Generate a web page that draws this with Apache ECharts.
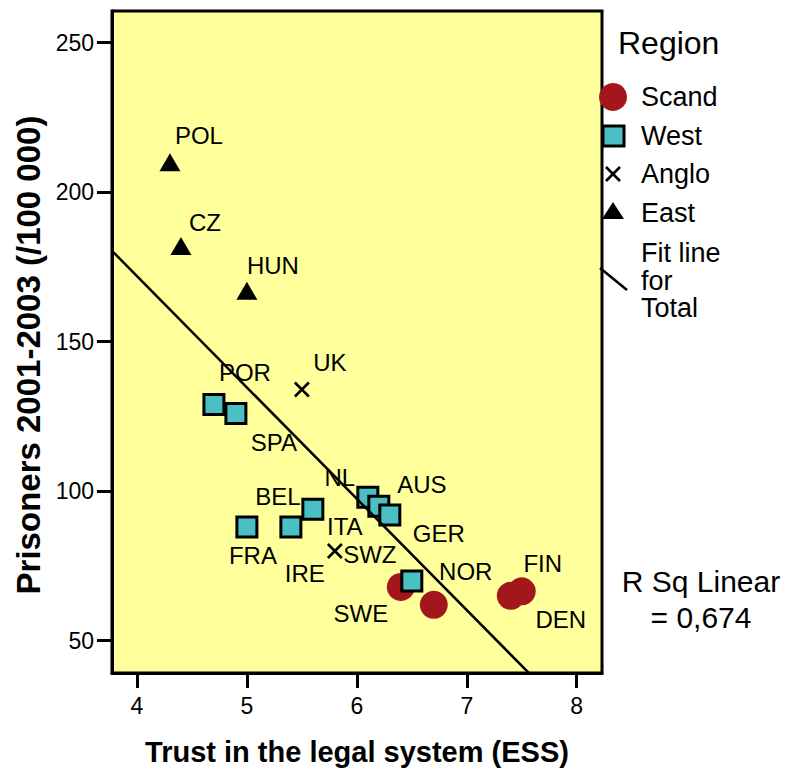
<!DOCTYPE html>
<html>
<head>
<meta charset="utf-8">
<script src="https://cdn.jsdelivr.net/npm/echarts@6/dist/echarts.min.js"></script>
<style>
html,body{margin:0;padding:0;background:#fff;}
#chart{width:793px;height:771px;}
</style>
</head>
<body>
<div id="chart"></div>
<script>
// ---- data ----
const countries = ['POL','CZ','HUN','UK','IRE','POR','SPA','BEL','ITA','FRA','NL','AUS','GER','SWZ','SWE','NOR','FIN','DEN'];
const regionOf  = ['East','East','East','Anglo','Anglo','West','West','West','West','West','West','West','West','West','Scand','Scand','Scand','Scand'];
const trust     = [4.3, 4.4, 5.0, 5.5, 5.8, 4.7, 4.9, 5.4, 5.6, 5.0, 6.1, 6.2, 6.3, 6.5, 6.4, 6.7, 7.5, 7.4];
const prisoners = [210, 182, 167, 134, 80, 129, 126, 88, 94, 88, 98, 95, 92, 70, 68, 62, 66.5, 65];
const regionNames = ['Scand','West','Anglo','East'];
const xTicks = [4, 5, 6, 7, 8];
const yTicks = [50, 100, 150, 200, 250];
const rSqText = ['R Sq Linear', '= 0,674'];
const legendTitle = 'Region';
const fitLegendLines = ['Fit line', 'for', 'Total'];
const xTitle = 'Trust in the legal system (ESS)';
const yTitle = 'Prisoners 2001-2003 (/100 000)';

// ---- styles ----
const FONT = "'Liberation Sans', Arial, Helvetica, sans-serif";
const labelOffsets = {
  POL:[29,-27], CZ:[24,-24], HUN:[26,-25], UK:[28,-27], IRE:[-30,22],
  POR:[31,-32], SPA:[38,29], BEL:[-13,-31], ITA:[32,17], FRA:[6,28],
  NL:[-28,-20], AUS:[43,-22], GER:[49,18], SWZ:[-42,-26],
  SWE:[-40,27], NOR:[32,-33], FIN:[21,-28], DEN:[50,24]
};
const X_MIN = 3.773, X_MAX = 8.23, Y_MIN = 39.2, Y_MAX = 260.6;
const TEAL = '#4AC0C5', RED = '#A3161B', BG = '#FFFF9C';

const symbolStyle = {
  Scand: {symbol:'circle', symbolSize:28, itemStyle:{color:RED, opacity:1}},
  West:  {symbol:'rect', symbolSize:20, itemStyle:{color:TEAL, borderColor:'#000', borderWidth:3, opacity:1}},
  Anglo: {symbol:'path://M0,0L10,10M10,0L0,10', symbolSize:14, itemStyle:{color:'rgba(0,0,0,0)', borderColor:'#000', borderWidth:2.6, opacity:1}},
  East:  {symbol:'triangle', symbolSize:[21,18], itemStyle:{color:'#000', opacity:1}}
};

// regression (fit line for total)
const n = trust.length;
const mx = trust.reduce((a,b)=>a+b,0)/n;
const my = prisoners.reduce((a,b)=>a+b,0)/n;
let sxy=0, sxx=0;
for (let i=0;i<n;i++){ sxy += (trust[i]-mx)*(prisoners[i]-my); sxx += (trust[i]-mx)**2; }
const slope = sxy/sxx, intercept = my - slope*mx;
const fitData = [[X_MIN, intercept+slope*X_MIN],[X_MAX, intercept+slope*X_MAX]];

const seriesNames = [];
const series = regionNames.map((r, si) => {
  const st = symbolStyle[r];
  const data = [];
  const names = [];
  for (let i=0;i<n;i++) if (regionOf[i]===r) {
    data.push({value:[trust[i], prisoners[i]], name:countries[i]});
    names.push(countries[i]);
  }
  seriesNames.push(names);
  return {
    type:'scatter', name:r, data,
    symbol:st.symbol, symbolSize:st.symbolSize, itemStyle:st.itemStyle,
    z: r==='West' ? 4 : 3,
    label:{show:true, position:'inside', align:'center', verticalAlign:'middle',
      formatter:p=>p.name, color:'#000', opacity:1, fontSize:24, fontFamily:FONT},
    labelLayout: function(params){
      const off = labelOffsets[seriesNames[params.seriesIndex][params.dataIndex]] || [0,0];
      return {dx: off[0], dy: off[1], hideOverlap:false};
    },
    emphasis:{disabled:true}, silent:true
  };
});
series.push({
  type:'line', name:'Fit line for Total', data:fitData, showSymbol:false, symbol:'none',
  lineStyle:{color:'#000', width:2.5, opacity:1}, z:5, clip:true, silent:true
});

// legend via graphics
const lx = 613, tx = 641;
const graphic = [
  {type:'text', left:618, top:27, style:{text:legendTitle, fontSize:32, fontFamily:FONT, fill:'#000'}},
  {type:'circle', shape:{cx:lx, cy:97, r:14}, style:{fill:RED}},
  {type:'rect', shape:{x:lx-10, y:126, width:21, height:20}, style:{fill:TEAL, stroke:'#000', lineWidth:3}},
  {type:'polyline', shape:{points:[[lx-7,167],[lx+7,181]]}, style:{stroke:'#000', lineWidth:2.6}},
  {type:'polyline', shape:{points:[[lx+7,167],[lx-7,181]]}, style:{stroke:'#000', lineWidth:2.6}},
  {type:'polygon', shape:{points:[[lx,202],[lx+11,219],[lx-11,219]]}, style:{fill:'#000'}},
  {type:'polyline', shape:{points:[[600,268],[627,290]]}, style:{stroke:'#000', lineWidth:2.5}}
];
const legendTexts = [['Scand',97],['West',136],['Anglo',174],['East',213]];
legendTexts.forEach(([t,y]) => graphic.push({type:'text', x:tx, y:y,
  style:{text:t, fontSize:27, fontFamily:FONT, fill:'#000', verticalAlign:'middle', textAlign:'left'}}));
fitLegendLines.forEach((t,i) => graphic.push({type:'text', x:tx, y:253+i*27.5,
  style:{text:t, fontSize:27, fontFamily:FONT, fill:'#000', verticalAlign:'middle', textAlign:'left'}}));
rSqText.forEach((t,i) => graphic.push({type:'text', x:701, y:581+i*36,
  style:{text:t, fontSize:30, fontFamily:FONT, fill:'#000', verticalAlign:'middle', textAlign:'center'}}));

const chart = echarts.init(document.getElementById('chart'), null, {renderer:'svg'});
chart.setOption({
  animation:false,
  backgroundColor:'#fff',
  grid:{left:112, right:191, top:11, bottom:96, show:true, backgroundColor:BG, borderColor:'#000', borderWidth:3, containLabel:false},
  xAxis:{
    type:'value', min:X_MIN, max:X_MAX,
    name:xTitle, nameLocation:'middle', nameGap:64,
    nameTextStyle:{fontSize:29, fontWeight:'bold', fontFamily:FONT, color:'#000'},
    axisLine:{show:true, onZero:false, lineStyle:{color:'#000', width:3}},
    axisTick:{show:true, customValues:xTicks, length:15, lineStyle:{color:'#000', width:3}},
    axisLabel:{customValues:xTicks, fontSize:23, fontFamily:FONT, color:'#000', margin:21},
    splitLine:{show:false}
  },
  yAxis:{
    type:'value', min:Y_MIN, max:Y_MAX,
    name:yTitle, nameLocation:'middle', nameGap:66, nameRotate:90,
    nameTextStyle:{fontSize:33, fontWeight:'bold', fontFamily:FONT, color:'#000', padding:[0,26,0,0]},
    axisLine:{show:true, onZero:false, lineStyle:{color:'#000', width:3}},
    axisTick:{show:true, customValues:yTicks, length:15, lineStyle:{color:'#000', width:3}},
    axisLabel:{customValues:yTicks, fontSize:23, fontFamily:FONT, color:'#000', margin:18},
    splitLine:{show:false}
  },
  graphic: graphic,
  series: series
});
</script>
</body>
</html>
